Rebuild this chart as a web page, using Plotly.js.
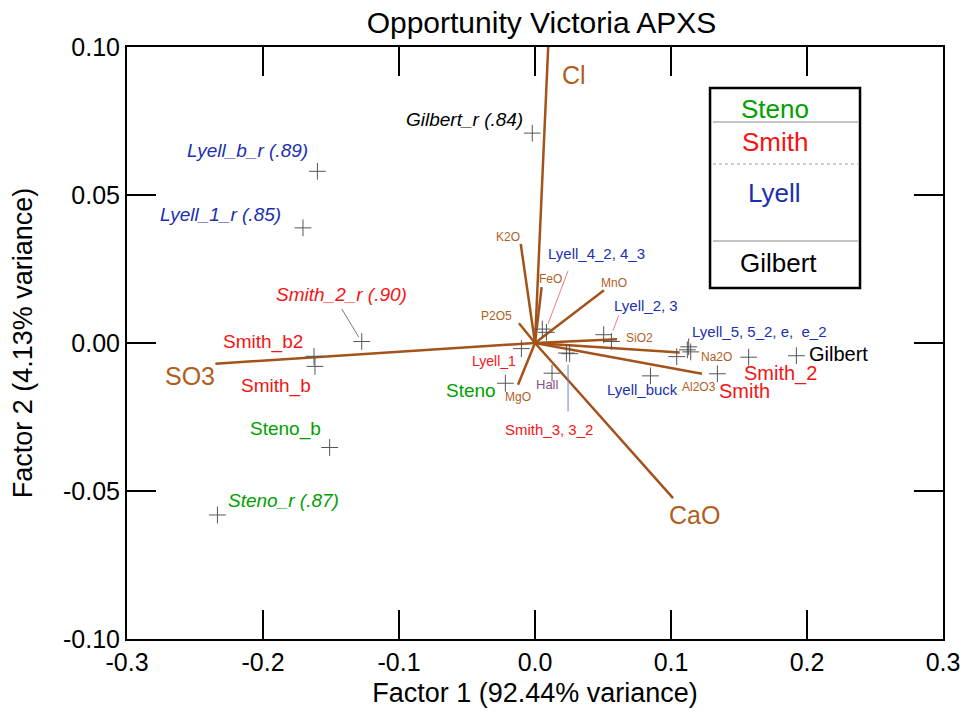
<!DOCTYPE html>
<html>
<head>
<meta charset="utf-8">
<script src="https://cdn.plot.ly/plotly-3.0.1.min.js"></script>
<style>
  html, body { margin: 0; padding: 0; background: #fff; }
  #chart { width: 964px; height: 713px; }
</style>
</head>
<body>
<div id="chart"></div>
<script>
// Sample scores on the first two factors
const sampleNames = [
  'Gilbert_r', 'Lyell_b_r', 'Lyell_1_r', 'Smith_2_r', 'Smith_b2', 'Smith_b',
  'Steno_b', 'Steno_r', 'Gilbert', 'Smith_2', 'Smith',
  'Lyell_5', 'Lyell_5_2', 'Lyell_e', 'Lyell_e_2', 'Lyell_buck',
  'Lyell_2', 'Lyell_3', 'Lyell_4_2', 'Lyell_4_3', 'Smith_3', 'Smith_3_2',
  'Hall', 'Lyell_1', 'Steno'
];
const sampleX = [
  -0.002, -0.160, -0.1706, -0.1274, -0.1625, -0.1618,
  -0.151, -0.2335, 0.1922, 0.1571, 0.1341,
  0.1042, 0.1120, 0.1130, 0.1145, 0.0849,
  0.0505, 0.0562, 0.0054, 0.0084, 0.0231, 0.0255,
  0.0125, -0.0100, -0.0218
];
const sampleY = [
  0.0709, 0.0580, 0.0389, 0.0005, -0.0045, -0.0079,
  -0.0353, -0.0581, -0.0043, -0.0048, -0.0104,
  -0.0046, -0.0023, -0.0013, -0.0030, -0.0111,
  0.0028, 0.0005, 0.0047, 0.0036, -0.0034, -0.0036,
  -0.0102, -0.0019, -0.0136
];

// Oxide loadings (biplot vectors)
const oxides = ['Cl', 'SO3', 'CaO', 'K2O', 'FeO', 'MnO', 'P2O5', 'SiO2', 'Na2O', 'Al2O3', 'MgO'];
const loadX = [0.0097, -0.235, 0.1015, -0.0105, 0.0049, 0.0507, -0.0118, 0.0603, 0.1064, 0.1228, -0.0125];
const loadY = [0.100, -0.0070, -0.0524, 0.0335, 0.0189, 0.0178, 0.0067, 0.0013, -0.0032, -0.0104, -0.0141];

// Axis ticks
const xTicks = [-0.3, -0.2, -0.1, 0.0, 0.1, 0.2, 0.3];
const xTickText = ['-0.3', '-0.2', '-0.1', '0.0', '0.1', '0.2', '0.3'];
const yTicks = [-0.10, -0.05, 0.00, 0.05, 0.10];
const yTickText = ['-0.10', '-0.05', '0.00', '0.05', '0.10'];

// Legend groups
const groupNames = ['Steno', 'Smith', 'Lyell', 'Gilbert'];

const FONT = 'Liberation Sans, Arial, Helvetica, sans-serif';
const GREEN = '#00a000', RED = '#f51414', BLUE = '#1a30b0', BLACK = '#000000';
const PURPLE = '#86508a';
const BROWN_LINE = '#a3531a', BROWN_TEXT = '#b05e1e';
const CROSS = '#555555';

// Vector traces: each from origin to loading
const vx = [], vy = [];
for (let i = 0; i < oxides.length; i++) {
  vx.push(0, loadX[i], null);
  vy.push(0, loadY[i], null);
}

const traces = [
  {
    x: vx, y: vy, type: 'scatter', mode: 'lines',
    line: { color: BROWN_LINE, width: 2.5 },
    hoverinfo: 'skip', cliponaxis: true
  },
  {
    x: sampleX, y: sampleY, text: sampleNames, type: 'scatter', mode: 'markers',
    marker: { symbol: 'cross-thin-open', size: 12, color: CROSS, line: { color: CROSS, width: 1 } },
    hoverinfo: 'text'
  }
];

// Sample label placement: [text, x, y, color, size, italic]
const sampleLabels = [
  ['Gilbert_r (.84)', -0.0517, 0.0755, BLACK, 19, true],
  ['Lyell_b_r (.89)', -0.2115, 0.0651, BLUE, 19, true],
  ['Lyell_1_r (.85)', -0.2313, 0.0434, BLUE, 19, true],
  ['Smith_2_r (.90)', -0.142, 0.0163, RED, 19, true],
  ['Steno_r (.87)', -0.185, -0.0533, GREEN, 19, true],
  ['Smith_b2', -0.1999, 0.0005, RED, 19, false],
  ['Smith_b', -0.1905, -0.0145, RED, 19, false],
  ['Steno_b', -0.1835, -0.0291, GREEN, 19, false],
  ['Steno', -0.0473, -0.0161, GREEN, 19, false],
  ['Gilbert', 0.2232, -0.0037, BLACK, 20, false],
  ['Smith_2', 0.1805, -0.0104, RED, 20, false],
  ['Smith', 0.154, -0.0161, RED, 20, false],
  ['Lyell_5, 5_2, e,\u00a0 e_2', 0.1649, 0.0039, BLUE, 15, false],
  ['Lyell_buck', 0.0788, -0.0158, BLUE, 15, false],
  ['Lyell_2, 3', 0.0818, 0.0127, BLUE, 15, false],
  ['Lyell_4_2, 4_3', 0.0454, 0.0304, BLUE, 15, false],
  ['Smith_3, 3_2', 0.0101, -0.0293, RED, 15, false],
  ['Lyell_1', -0.030, -0.0062, RED, 14, false],
  ['Hall', 0.0094, -0.0141, PURPLE, 13, false]
];

// Oxide label placement: [x, y, size]
const oxideLabelPos = {
  'Cl': [0.029, 0.0907, 25],
  'SO3': [-0.254, -0.0111, 25],
  'CaO': [0.117, -0.0581, 25],
  'K2O': [-0.0197, 0.0359, 12],
  'FeO': [0.0115, 0.0217, 12],
  'MnO': [0.0579, 0.0204, 12],
  'P2O5': [-0.0285, 0.0090, 12],
  'SiO2': [0.0766, 0.0018, 12],
  'Na2O': [0.1336, -0.0046, 12],
  'Al2O3': [0.1204, -0.0148, 12],
  'MgO': [-0.0124, -0.0182, 12]
};

const annotations = [];
sampleLabels.forEach(([t, x, y, c, s, it]) => {
  annotations.push({
    text: it ? '<i>' + t + '</i>' : t, x: x, y: y, xref: 'x', yref: 'y',
    showarrow: false, xanchor: 'center', yanchor: 'middle',
    font: { family: FONT, size: s, color: c }
  });
});
oxides.forEach(o => {
  const p = oxideLabelPos[o];
  annotations.push({
    text: o, x: p[0], y: p[1], xref: 'x', yref: 'y',
    showarrow: false, xanchor: 'center', yanchor: 'middle',
    font: { family: FONT, size: p[2], color: BROWN_TEXT }
  });
});

// Legend text (group names in the box)
const legendColors = [GREEN, RED, BLUE, BLACK];
const legendPos = [[0.7938, 0.8949], [0.7938, 0.8401], [0.7929, 0.7539], [0.7990, 0.6357]];
groupNames.forEach((g, i) => {
  annotations.push({
    text: g, x: legendPos[i][0], y: legendPos[i][1], xref: 'paper', yref: 'paper',
    showarrow: false, xanchor: 'center', yanchor: 'middle',
    font: { family: FONT, size: 26, color: legendColors[i] }
  });
});

// Leader lines from labels to their points
const leaders = [
  [-0.1421, 0.0115, -0.1296, 0.0020, '#777777'],
  [0.0243, 0.0244, 0.0096, 0.0065, '#f07a7a'],
  [0.0615, 0.0093, 0.0574, 0.0042, '#f07a7a'],
  [0.0243, -0.0074, 0.0243, -0.0231, '#6a7fd8']
];
const shapes = leaders.map(([x0, y0, x1, y1, c]) => ({
  type: 'line', xref: 'x', yref: 'y', x0, y0, x1, y1,
  line: { color: c, width: 1 }
}));

// Legend box and separators
shapes.push({
  type: 'rect', xref: 'paper', yref: 'paper',
  x0: 0.7145, x1: 0.8983, y0: 0.5929, y1: 0.9307,
  line: { color: '#000', width: 2.5 }, fillcolor: 'rgba(255,255,255,0)'
});
[[0.8733, 'solid', '#8a8a8a'], [0.8024, 'dot', '#9a9a9a'], [0.6723, 'solid', '#8a8a8a']].forEach(([y, d, c]) => {
  shapes.push({
    type: 'line', xref: 'paper', yref: 'paper',
    x0: 0.7181, x1: 0.8958, y0: y, y1: y,
    line: { color: c, width: 1, dash: d }
  });
});

const axisCommon = {
  showgrid: false, zeroline: false,
  showline: true, linecolor: '#000', linewidth: 2, mirror: 'allticks',
  ticks: 'inside', ticklen: 29, tickwidth: 1.5, tickcolor: '#000',
  tickfont: { family: FONT, size: 25, color: '#000' }
};

const layout = {
  width: 964, height: 713,
  margin: { l: 127, r: 21, t: 47, b: 74 },
  paper_bgcolor: '#fff', plot_bgcolor: '#fff',
  showlegend: false,
  title: {
    text: 'Opportunity Victoria APXS',
    font: { family: FONT, size: 30, color: '#000' },
    xref: 'container', x: 0.5617, xanchor: 'center',
    yref: 'container', y: 0.969, yanchor: 'middle'
  },
  xaxis: Object.assign({}, axisCommon, {
    range: [-0.3, 0.3], tickvals: xTicks, ticktext: xTickText,
    title: { text: 'Factor 1 (92.44% variance)', font: { family: FONT, size: 27, color: '#000' }, standoff: 8 }
  }),
  yaxis: Object.assign({}, axisCommon, {
    range: [-0.10, 0.10], tickvals: yTicks, ticktext: yTickText,
    title: { text: 'Factor 2 (4.13% variance)', font: { family: FONT, size: 27, color: '#000' }, standoff: 23 }
  }),
  annotations: annotations,
  shapes: shapes
};

Plotly.newPlot('chart', traces, layout, { displayModeBar: false, staticPlot: true });
</script>
</body>
</html>
